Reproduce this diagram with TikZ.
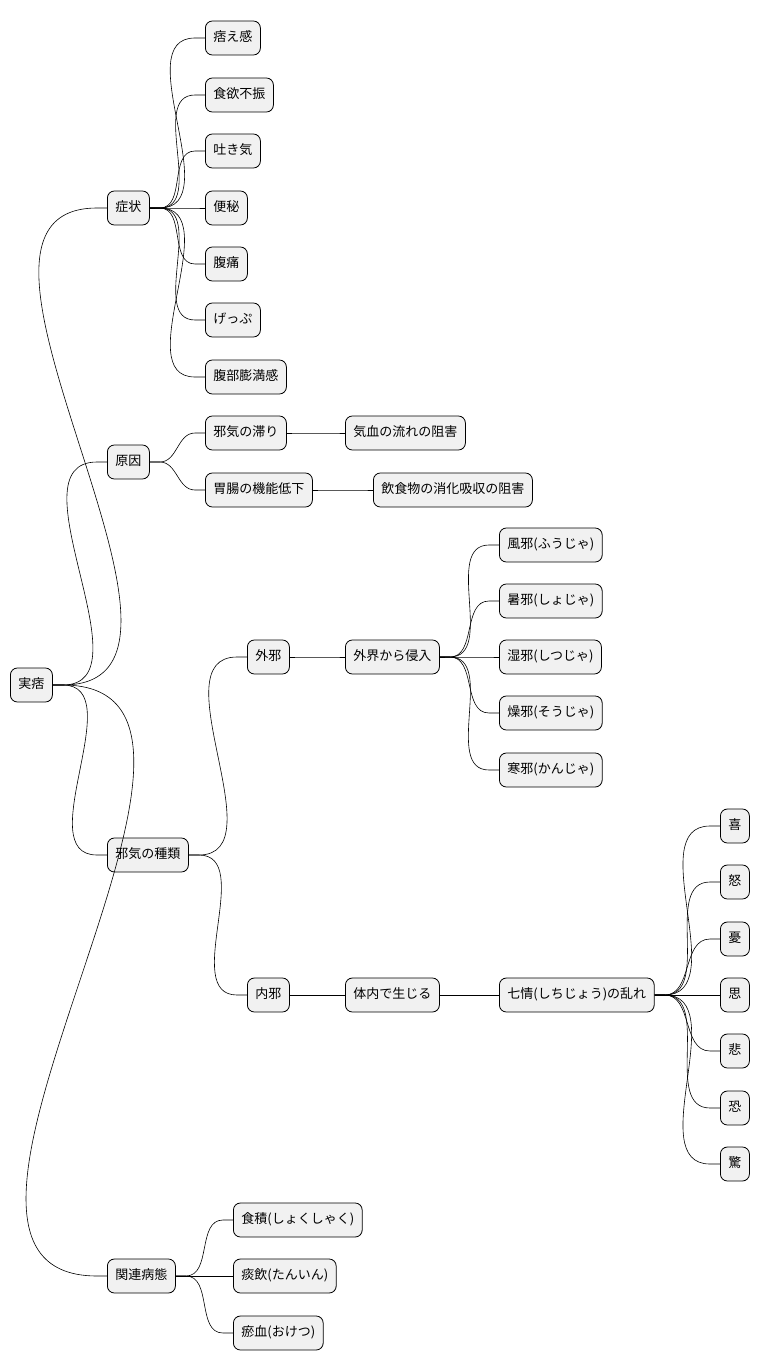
\documentclass[tikz,border=0pt]{standalone}
\usepackage{fontspec}
\setmainfont{Noto Sans CJK JP}
\usetikzlibrary{calc}
\definecolor{boxgray}{RGB}{241,241,241}
\tikzset{
  x=1pt,y=-1pt,
  font=\fontsize{13}{15}\selectfont,
  topic/.style={draw,fill=boxgray,rounded corners=7pt,anchor=west,minimum height=34pt,inner xsep=8pt,text height=1.6ex,text depth=0.3ex,line width=0.8pt},
  branch/.style={draw,line width=0.6pt}
}
\newcommand{\branchto}[2]{\path [branch] (#1.east) -- ++(10,0) to[out=0,in=180] ($(#2.west)-(10,0)$) -- (#2.west);}

\begin{document}
\begin{tikzpicture}
    \useasboundingbox (0,0) rectangle (765,1372);
    \node (root) [topic] at (10,685) {実痞};

    \node (symp) [topic] at (107,208) {症状};
    \foreach \name/\txt/\y in {s1/痞え感/38,s2/食欲不振/95,s3/吐き気/151,s4/便秘/208,s5/腹痛/264,s6/げっぷ/320,s7/腹部膨満感/377} {
      \node (\name) [topic] at (205,\y) {\txt};
      \branchto{symp}{\name}
    }

    \node (cause) [topic] at (107,462) {原因};
    \node (c1) [topic] at (205,433) {邪気の滞り};
    \node (c1a) [topic] at (345,433) {気血の流れの阻害};
    \node (c2) [topic] at (205,490) {胃腸の機能低下};
    \node (c2a) [topic] at (373,490) {飲食物の消化吸収の阻害};

    \node (kind) [topic] at (107,855) {邪気の種類};
    \node (ext) [topic] at (247,657) {外邪};
    \node (extin) [topic] at (345,657) {外界から侵入};
    \foreach \name/\txt/\y in {e1/風邪(ふうじゃ)/545,e2/暑邪(しょじゃ)/601,e3/湿邪(しつじゃ)/657,e4/燥邪(そうじゃ)/713,e5/寒邪(かんじゃ)/770} {
      \node (\name) [topic] at (499,\y) {\txt};
      \branchto{extin}{\name}
    }
    \node (int) [topic] at (247,995) {内邪};
    \node (intin) [topic] at (345,995) {体内で生じる};
    \node (emo) [topic] at (499,995) {七情(しちじょう)の乱れ};
    \foreach \name/\txt/\y in {m1/喜/826,m2/怒/882,m3/憂/939,m4/思/995,m5/悲/1051,m6/恐/1108,m7/驚/1164} {
      \node (\name) [topic] at (720,\y) {\txt};
      \branchto{emo}{\name}
    }

    \node (rel) [topic] at (107,1276) {関連病態};
    \foreach \name/\txt/\y in {r1/食積(しょくしゃく)/1220,r2/痰飲(たんいん)/1276,r3/瘀血(おけつ)/1333} {
      \node (\name) [topic] at (233,\y) {\txt};
      \branchto{rel}{\name}
    }

    \branchto{root}{symp}
    \branchto{root}{cause}
    \branchto{root}{kind}
    \branchto{root}{rel}
    \branchto{cause}{c1}
    \branchto{cause}{c2}
    \branchto{c1}{c1a}
    \branchto{c2}{c2a}
    \branchto{kind}{ext}
    \branchto{kind}{int}
    \branchto{ext}{extin}
    \branchto{int}{intin}
    \branchto{intin}{emo}
\end{tikzpicture}
\end{document}
